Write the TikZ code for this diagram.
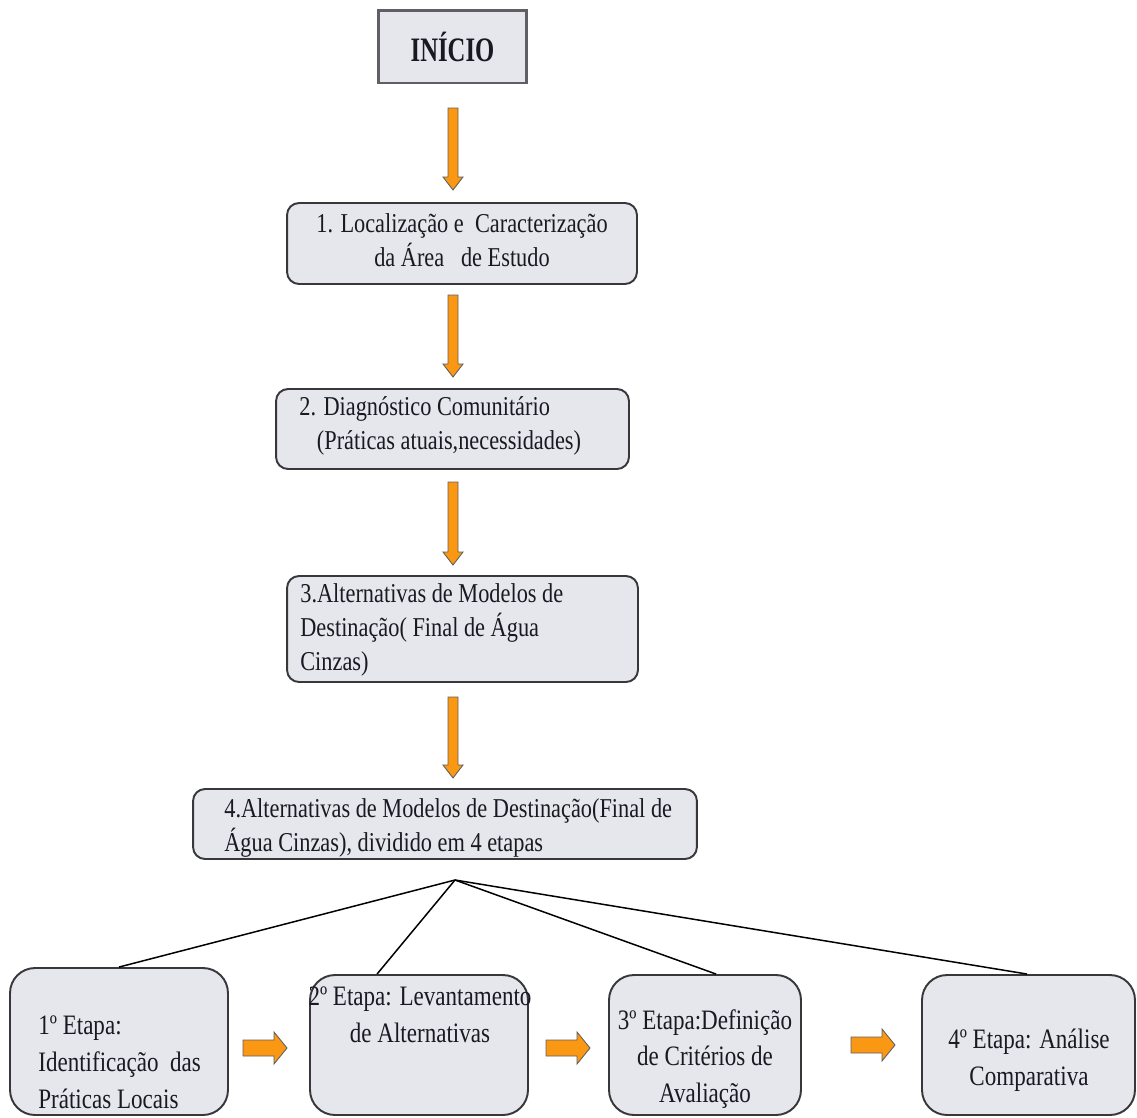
\documentclass[tikz,border=0pt]{standalone}
\usepackage{fontspec}
\setmainfont[FakeStretch=0.82]{Liberation Serif}
\newfontfamily\startfont[FakeStretch=0.72]{Liberation Serif}
\usetikzlibrary{calc}
\definecolor{boxfill}{RGB}{230,231,236}
\definecolor{boxdraw}{RGB}{55,55,60}
\definecolor{startdraw}{RGB}{95,95,100}
\definecolor{orng}{RGB}{250,152,20}
\definecolor{txtc}{RGB}{25,25,35}
\newcommand\vdarrow[2]{%
  \draw[oarrow] ($(#1)+(-5,0)$) -- ($(#1)+(5,0)$) -- ($(#2)+(5,-13)$) -- ($(#2)+(10,-13)$) -- (#2)
    -- ($(#2)+(-10,-13)$) -- ($(#2)+(-5,-13)$) -- cycle;}
\newcommand\hrarrow[2]{%
  \draw[oarrow] ($(#1)+(0,-8)$) -- ($(#2)+(-13,-8)$) -- ($(#2)+(-13,-16)$) -- (#2)
    -- ($(#2)+(-13,16)$) -- ($(#2)+(-13,8)$) -- ($(#1)+(0,8)$) -- cycle;}
\begin{document}
\begin{tikzpicture}[x=0.02cm,y=-0.02cm,
  box/.style={draw=boxdraw, line width=1.1pt, fill=boxfill, rounded corners=0.24cm, inner sep=0pt},
  bigbox/.style={box, rounded corners=0.5cm},
  startbox/.style={draw=startdraw, line width=1.7pt, fill=boxfill, inner sep=0pt},
  txt/.style={font=\fontsize{15.5}{19.5}\selectfont, text=txtc, inner sep=0pt},
  btxt/.style={font=\fontsize{16}{21}\selectfont, text=txtc, inner sep=0pt},
  oarrow/.style={fill=orng, draw=boxdraw!80, line width=0.5pt, line join=miter},
  fan/.style={draw=black, line width=0.85pt}]
\useasboundingbox (0,0) rectangle (1137,1117);

% boxes
\node[startbox, minimum width=2.98cm, minimum height=1.46cm] (start) at (452.5,46.5)
  {\startfont\fontsize{19.5}{22}\selectfont\bfseries\color{txtc}INÍCIO};
\node[box, minimum width=7cm, minimum height=1.62cm] (b1) at (462,243.5) {};
\node[box, minimum width=7.06cm, minimum height=1.6cm] (b2) at (452.5,429) {};
\node[box, minimum width=7.02cm, minimum height=2.12cm] (b3) at (462.5,629) {};
\node[box, minimum width=10.08cm, minimum height=1.4cm] (b4) at (445,824) {};
\node[bigbox, minimum width=4.36cm, minimum height=2.94cm] (e1) at (119,1041.5) {};
\node[bigbox, minimum width=4.36cm, minimum height=2.8cm] (e2) at (419,1045) {};
\node[bigbox, minimum width=3.84cm, minimum height=2.8cm] (e3) at (705,1045) {};
\node[bigbox, minimum width=4.26cm, minimum height=2.8cm] (e4) at (1028.5,1045) {};

% texts
\node[txt, align=center] (b1t) at (462,240) {1. Localização e\ \ Caracterização\\da Área\ \ \ de Estudo};
\node[txt, align=left, anchor=west] (b2t) at (299,426) {2. Diagnóstico Comunitário\\\hspace{10pt}(Práticas atuais,necessidades)};
\node[txt, align=left, anchor=west] (b3t) at (300,630) {3.Alternativas de Modelos de\\Destinação( Final de Água\\Cinzas)};
\node[txt, align=left, anchor=west] (b4t) at (224,828) {4.Alternativas de Modelos de Destinação(Final de\\Água Cinzas), dividido em 4 etapas};
\node[btxt, align=left, anchor=west] (e1t) at (38,1062) {1º Etapa:\\Identificação\ \ das\\Práticas Locais};
\node[btxt, align=center] (e2t) at (420,1015) {2º Etapa: Levantamento\\de Alternativas};
\node[btxt, align=center] (e3t) at (705,1059) {3º Etapa:Definição\\de Critérios de\\Avaliação};
\node[btxt, align=center] (e4t) at (1029,1060) {4º Etapa: Análise\\Comparativa};

% vertical arrows
\coordinate (t1) at (453,108); \coordinate (h1) at (453,190);
\coordinate (t2) at (453,295); \coordinate (h2) at (453,377);
\coordinate (t3) at (453,482); \coordinate (h3) at (453,565);
\coordinate (t4) at (453,697); \coordinate (h4) at (453,778);
\vdarrow{t1}{h1}
\vdarrow{t2}{h2}
\vdarrow{t3}{h3}
\vdarrow{t4}{h4}

% horizontal arrows
\coordinate (s1) at (243,1048); \coordinate (r1) at (287,1048);
\coordinate (s2) at (546,1048); \coordinate (r2) at (590,1048);
\coordinate (s3) at (851,1045); \coordinate (r3) at (895,1045);
\hrarrow{s1}{r1}
\hrarrow{s2}{r2}
\hrarrow{s3}{r3}

% fan lines
\coordinate (fan) at (455,880);
\draw[fan] (fan) -- ($(e1.north west)+(110,0)$);
\draw[fan] (fan) -- ($(e2.north west)+(68,0)$);
\draw[fan] (fan) -- ($(e3.north west)+(108,0)$);
\draw[fan] (fan) -- ($(e4.north west)+(106,0)$);
\end{tikzpicture}
\end{document}
